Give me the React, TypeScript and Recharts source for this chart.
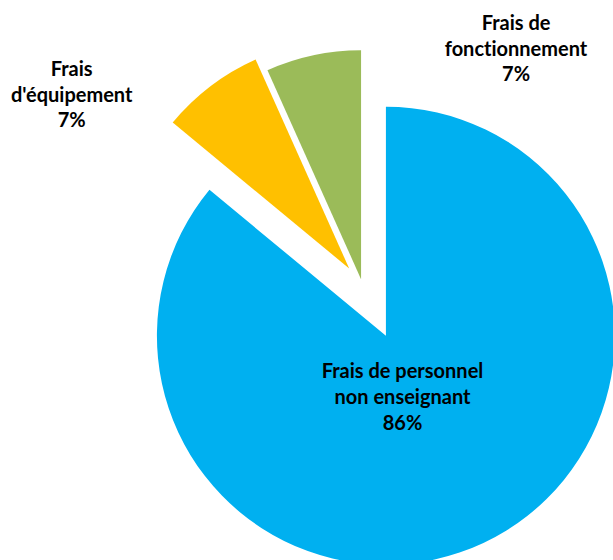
import React from "react";
import { PieChart, Pie, Cell, Sector } from "recharts";

// Budget split (percent of total)
const CATEGORIES = [
  "Frais de personnel non enseignant",
  "Frais d'équipement",
  "Frais de fonctionnement",
];
const LABEL_LINES = [
  ["Frais de personnel", "non enseignant"],
  ["Frais", "d'équipement"],
  ["Frais de", "fonctionnement"],
];
const SHARES = [86, 7.3, 6.7];

const COLORS = ["#00B0F0", "#FFC000", "#9BBB59"];
// how far each slice is pulled out from the pie centre, px
const EXPLODE = [55, 22, 7];
// label anchor (baseline of middle line) relative to the slice's own centre
const LABEL_OFFSET = [
  [16.6, 68.2],
  [-277.5, -166.8],
  [155, -223.5],
];
const LINE_HEIGHT = 25.7;
const FONT = "Lato, 'Open Sans', sans-serif";

const data = SHARES.map((value, i) => ({ name: CATEGORIES[i], value, idx: i }));

function shiftCentre(cx: number, cy: number, midAngle: number, idx: number) {
  const off = EXPLODE[idx] ?? 0;
  const rad = (midAngle * Math.PI) / 180;
  return { x: cx + off * Math.cos(rad), y: cy - off * Math.sin(rad) };
}

function ExplodedSector(props: any) {
  const idx = props.idx ?? props.payload?.idx ?? 0;
  const c = shiftCentre(props.cx, props.cy, props.midAngle, idx);
  return <Sector {...props} cx={c.x} cy={c.y} />;
}

function renderLabel(props: any) {
  const idx = props.payload?.idx ?? props.index ?? 0;
  const c = shiftCentre(props.cx, props.cy, props.midAngle, idx);
  const [dx, dy] = LABEL_OFFSET[idx];
  const x = c.x + dx;
  const y = c.y + dy;
  const lines = [...LABEL_LINES[idx], `${Math.round(props.percent * 100)}%`];
  return (
    <text
      key={`lbl-${idx}`}
      x={x}
      y={y - LINE_HEIGHT}
      textAnchor="middle"
      fontFamily={FONT}
      fontWeight="bold"
      fontSize={20}
      fill="#000"
      style={{ fontVariantLigatures: "none" }}
    >
      {lines.map((line, k) => (
        <tspan key={k} x={x} y={y + (k - 1) * LINE_HEIGHT}>
          {line}
        </tspan>
      ))}
    </text>
  );
}

export default function App() {
  return (
    <div style={{ position: "absolute", left: 0, top: 0, width: 613, height: 560, background: "#fff" }}>
      <PieChart width={613} height={560} margin={{ top: 0, right: 0, bottom: 0, left: 0 }}>
        <Pie
          data={data}
          dataKey="value"
          nameKey="name"
          cx={362.5}
          cy={286}
          outerRadius={229}
          startAngle={90}
          endAngle={-270}
          stroke="none"
          shape={ExplodedSector}
          label={renderLabel}
          labelLine={false}
          isAnimationActive={false}
        >
          {data.map((d, i) => (
            <Cell key={d.name} fill={COLORS[i]} />
          ))}
        </Pie>
      </PieChart>
    </div>
  );
}
